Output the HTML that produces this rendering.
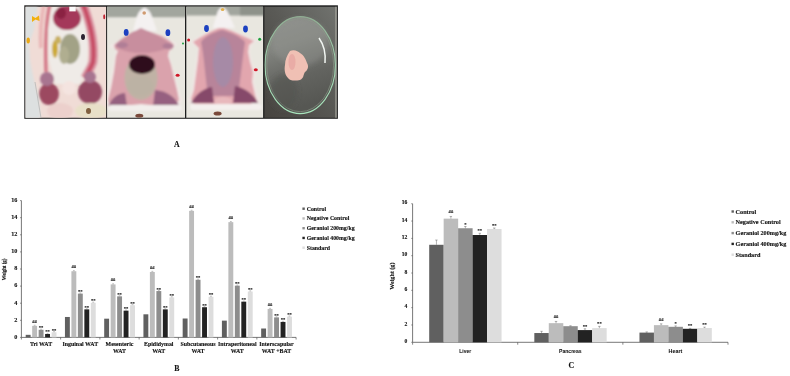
<!DOCTYPE html>
<html><head><meta charset="utf-8"><style>
html,body{margin:0;padding:0;background:#fff;width:790px;height:376px;overflow:hidden}
svg{display:block}
text{font-family:"Liberation Serif",serif;font-weight:bold;fill:#111;stroke:#111;stroke-width:0.12px}
.tk{font-size:5.6px}
.tkb{font-size:6.2px}
.an{font-size:4.6px;fill:#222;stroke:#222}
.cl{font-size:5.9px}
.yt{font-size:5.6px}
.yt2{font-size:6.1px}
.lg{font-size:5.85px}
.lg2{font-size:6.2px}
.cs{font-family:"Liberation Sans",sans-serif;font-size:5.8px;stroke-width:0.05px}
.pl{font-size:7.8px}
</style></head><body>
<svg width="790" height="376" viewBox="0 0 790 376" style="transform:translateZ(0)">
<defs>
<filter id="b1" x="-50%" y="-50%" width="200%" height="200%"><feGaussianBlur stdDeviation="1.2"/></filter>
<filter id="b2" x="-50%" y="-50%" width="200%" height="200%"><feGaussianBlur stdDeviation="2.5"/></filter>
<filter id="b3" x="-50%" y="-50%" width="200%" height="200%"><feGaussianBlur stdDeviation="0.6"/></filter>
</defs>
<rect x="24.3" y="5.3" width="313.6" height="113.5" fill="#1e1e1e"/>
<clipPath id="c1"><rect x="25.5" y="6.8" width="80.6" height="111.0"/></clipPath>
<clipPath id="c2"><rect x="107.1" y="6.8" width="77.9" height="111.0"/></clipPath>
<clipPath id="c3"><rect x="186.3" y="6.8" width="76.8" height="111.0"/></clipPath>
<clipPath id="c4"><rect x="264.4" y="6.8" width="72.5" height="111.0"/></clipPath>
<linearGradient id="dish" x1="0" y1="0" x2="0.25" y2="1"><stop offset="0" stop-color="#8e908c"/><stop offset="0.35" stop-color="#82847f"/><stop offset="0.7" stop-color="#636460"/><stop offset="1" stop-color="#565753"/></linearGradient>
<linearGradient id="rim" x1="0" y1="0" x2="0" y2="1"><stop offset="0" stop-color="#8fae92"/><stop offset="0.5" stop-color="#a0d4b0"/><stop offset="1" stop-color="#a8e4bc"/></linearGradient>
<linearGradient id="bg4" x1="1" y1="0" x2="0" y2="1"><stop offset="0" stop-color="#727470"/><stop offset="0.45" stop-color="#5a5a56"/><stop offset="1" stop-color="#45423e"/></linearGradient>
<g clip-path="url(#c1)">
<rect x="25" y="6" width="82" height="113" fill="#f0dcd6"/>
<g filter="url(#b1)">
<path d="M20 4 L38 4 L34 30 L29 44 L30 60 L34 80 L39 100 L41 122 L20 122Z" fill="#dde0e0"/>
<path d="M44 4 C41 20 40 35 41 48" stroke="#eab8b8" stroke-width="4" fill="none"/>
<path d="M50 4 C46 20 45 40 46 72" stroke="#d47c8a" stroke-width="3.5" fill="none"/>
<path d="M52 7 L84 7 L88 40 L87 70 L80 84 L55 84 L49 60 L48 30Z" fill="#efebe7"/>
<path d="M83 4 C91 25 95 45 93 62 C91 68 88 72 85 78" stroke="#dc98a6" stroke-width="9" fill="none"/>
<path d="M83 4 C91 25 95 45 93 62 C91 68 88 72 85 78" stroke="#c85068" stroke-width="4.5" fill="none"/>
<ellipse cx="67" cy="18" rx="14" ry="12" fill="#a4385a"/>
<ellipse cx="61" cy="13" rx="5" ry="6" fill="#8a2042"/>
<ellipse cx="70" cy="49" rx="10" ry="15" fill="#a2a286"/>
<ellipse cx="64" cy="55" rx="5" ry="9" fill="#b0ae90"/>
<ellipse cx="55" cy="49" rx="3" ry="9" fill="#ccaa3a"/>
<ellipse cx="58" cy="40" rx="3" ry="4" fill="#c8b060"/>
<ellipse cx="49" cy="94" rx="10" ry="11" fill="#9c4860"/>
<ellipse cx="47" cy="79" rx="7" ry="7" fill="#a87490"/>
<ellipse cx="90" cy="92" rx="12" ry="12" fill="#944a64"/>
<ellipse cx="90" cy="77" rx="6" ry="6" fill="#a87490"/>
<ellipse cx="69" cy="88" rx="7" ry="7" fill="#f4e4e0"/>
<ellipse cx="91" cy="111" rx="16" ry="8" fill="#e8e0c8"/>
<ellipse cx="60" cy="111" rx="13" ry="8" fill="#ecd0cc"/>
</g>
<g filter="url(#b3)">
<rect x="69.3" y="5" width="6.4" height="6.4" fill="#fafafa"/>
<ellipse cx="83" cy="37" rx="2" ry="3" fill="#2c2430"/>
<path d="M32 16 L35.5 18 L39 15.5 L39.5 21 L35.5 19.5 L32 22Z" fill="#f2b010"/>
<ellipse cx="28.2" cy="40.5" rx="1.7" ry="3" fill="#eaa818"/>
<ellipse cx="104.2" cy="16.8" rx="1" ry="2.5" fill="#c02030"/>
<ellipse cx="88.5" cy="111" rx="2.5" ry="3" fill="#806040"/>
<line x1="35" y1="82" x2="41" y2="118" stroke="#9aa0a0" stroke-width="0.5"/>
</g></g>
<g clip-path="url(#c2)">
<rect x="106" y="6" width="80" height="113" fill="#e9e7e0"/>
<g filter="url(#b1)">
<rect x="100" y="0" width="90" height="17.2" fill="#a2a69e"/>
<path d="M141.6 26 L152 32 L165 37 L177 44 L171 49 L169 56 L172 65 L175 78 L179 90 L182 100 L179 108 L160 109 L141 107 L122 109 L107 108 L105 100 L109 88 L112 72 L115 56 L116 50 L109 46 L120 40 L132 33Z" fill="#f2e8e6"/>
<path d="M141 27.5 L150 32 L162 36 L170 41 L174 45 L172 49 L169 51 L168 56 L171 65 L174 78 L177 90 L179 100 L175 105 L160 106 L141 104 L122 106 L110 105 L108 100 L111 88 L114 72 L116 56 L118 51 L115 49 L114 45 L120 40 L131 33Z" fill="#daa2ac"/>
<path d="M144.6 7.5 C140 9 137.5 14 136.5 18 L133 31 L157 31 L152.5 18 C151.5 14 149 9 144.6 7.5Z" fill="#f4f1f1"/>
<path d="M141 28 C148 31 158 35 165 40 L172 46 C165 50 155 52 148 53 L136 53 C128 52 120 50 115 46 L121 40 C127 35 135 31 141 28Z" fill="#c88e9e"/>
<ellipse cx="122" cy="45" rx="6" ry="3" fill="#b07e96"/>
<ellipse cx="168" cy="46" rx="5.5" ry="3" fill="#b07e96"/>
<ellipse cx="141" cy="78" rx="16.5" ry="22" fill="#c0b2a5"/>
<ellipse cx="142" cy="64.5" rx="13" ry="9.5" fill="#2e0f1a"/>
<ellipse cx="140" cy="86" rx="13" ry="10" fill="#bcb2a4"/>
<path d="M108 106 L127 106 L125 93 C118 93 112 98 108 106Z" fill="#966080"/>
<path d="M153 106 L179 106 C176 98 168 91 155 90Z" fill="#966080"/>
<rect x="108" y="105" width="74" height="6" rx="3" fill="#f2eeec"/>
</g>
<g filter="url(#b3)">
<ellipse cx="144.2" cy="13" rx="1.8" ry="1.8" fill="#d09a70"/>
<ellipse cx="126.2" cy="32.4" rx="2.4" ry="3.4" fill="#1a3fc0"/>
<ellipse cx="167.9" cy="32.7" rx="2.4" ry="3.4" fill="#1a3fc0"/>
<ellipse cx="177.6" cy="75.2" rx="2" ry="1.5" fill="#d01828"/>
<circle cx="183" cy="43.6" r="1" fill="#20a040"/>
<ellipse cx="139.3" cy="115.8" rx="4" ry="2" fill="#7a4a3a"/>
</g></g>
<g clip-path="url(#c3)">
<rect x="185" y="6" width="80" height="113" fill="#e9e7e0"/>
<g filter="url(#b1)">
<rect x="180" y="0" width="90" height="15.5" fill="#a2a69e"/>
<rect x="240" y="0" width="30" height="15.5" fill="#8e928a"/>
<path d="M221 26 L232 30 L244 35 L257 40 L252 45 L250 52 L252 62 L256 72 L254 82 L258 95 L261 102 L250 107 L222 109 L192 107 L188 100 L192 90 L194 75 L196 60 L198 48 L190 42 L200 36 L210 31Z" fill="#f0e6e4"/>
<path d="M221 27 L232 31 L243 36 L254 41 L249 45 L248 52 L250 62 L253 72 L252 82 L255 95 L257 101 L250 104 L222 106 L194 104 L191 99 L194 90 L196 75 L198 60 L199 48 L193 42 L201 37 L210 32Z" fill="#e2a6ae"/>
<path d="M222.2 7 C219 8 217 12 216.6 15.6 L212.6 28 L235 28 L229.4 15.6 C228 12 226 8 222.2 7Z" fill="#f4f1f1"/>
<path d="M222 30 C230 32 240 36 245 42 C243 55 241 75 238 96 L208 96 C205 75 204 55 201 42 C205 36 214 32 222 30Z" fill="#b8849a"/>
<ellipse cx="223" cy="62" rx="10" ry="25" fill="#a68aa6"/>
<path d="M191 103 L214 103 L212 87 C204 88 196 94 191 103Z" fill="#86486a"/>
<path d="M233 103 L258 103 C254 95 246 88 235 86Z" fill="#86486a"/>
<ellipse cx="223" cy="101" rx="9" ry="4" fill="#e8b8bc"/>
<rect x="190" y="104" width="72" height="6" rx="3" fill="#f4f0ee"/>
</g>
<g filter="url(#b3)">
<ellipse cx="222.6" cy="9.6" rx="1.8" ry="1.5" fill="#e0b050"/>
<ellipse cx="206.5" cy="28.5" rx="2.4" ry="3.4" fill="#1a3fc0"/>
<ellipse cx="245.5" cy="29" rx="2.4" ry="3.4" fill="#1a3fc0"/>
<circle cx="188.6" cy="40.1" r="1.5" fill="#d01828"/>
<ellipse cx="255.8" cy="69.8" rx="2" ry="1.5" fill="#d01828"/>
<circle cx="259.7" cy="39.2" r="1.5" fill="#20a040"/>
<ellipse cx="217.6" cy="113.4" rx="4" ry="2" fill="#7a4a3a"/>
</g></g>
<g clip-path="url(#c4)">
<rect x="263" y="6" width="76" height="113" fill="url(#bg4)"/>
<rect x="335" y="6" width="3" height="113" fill="#a8a8a0" opacity="0.6"/>
<ellipse cx="300.2" cy="65.1" rx="35.2" ry="48.5" fill="url(#dish)"/>
<g filter="url(#b3)">
<ellipse cx="300.2" cy="65.1" rx="33.4" ry="46.6" fill="none" stroke="#8a9a88" stroke-width="0.8" opacity="0.8"/>
<ellipse cx="300" cy="42" rx="28" ry="24" fill="#969894" opacity="0.4" filter="url(#b2)"/>
<ellipse cx="284" cy="92" rx="14" ry="18" fill="#50514d" opacity="0.45" filter="url(#b2)"/>
<path d="M319 38 C324 45 326 52 325 63" stroke="#f2f6f2" stroke-width="1.5" fill="none"/>
<path d="M290 51 C294 49 298 51 300 53 C304 55 306 60 307 63 C309 66 308 70 305 72 C303 75 304 78 300 80 C295 81 290 81 288 78 C285 75 284 70 285 65 C285 60 287 55 290 51Z" fill="#f0c0b4"/>
<ellipse cx="292" cy="62" rx="3.5" ry="8" fill="#e6a4a0" opacity="0.7"/>
</g>
<ellipse cx="300.2" cy="65.1" rx="35.2" ry="48.5" fill="none" stroke="url(#rim)" stroke-width="1.1"/>
</g>
<text x="176.9" y="146.6" text-anchor="middle" class="pl">A</text>
<line x1="21.4" y1="200.60" x2="21.4" y2="337.4" stroke="#555" stroke-width="0.8"/>
<line x1="21.4" y1="337.4" x2="296.1" y2="337.4" stroke="#555" stroke-width="0.8"/>
<line x1="20.099999999999998" y1="337.40" x2="21.4" y2="337.40" stroke="#555" stroke-width="0.7"/>
<text x="17.4" y="338.70" text-anchor="end" class="tkb">0</text>
<line x1="20.099999999999998" y1="320.30" x2="21.4" y2="320.30" stroke="#555" stroke-width="0.7"/>
<text x="17.4" y="321.60" text-anchor="end" class="tkb">2</text>
<line x1="20.099999999999998" y1="303.20" x2="21.4" y2="303.20" stroke="#555" stroke-width="0.7"/>
<text x="17.4" y="304.50" text-anchor="end" class="tkb">4</text>
<line x1="20.099999999999998" y1="286.10" x2="21.4" y2="286.10" stroke="#555" stroke-width="0.7"/>
<text x="17.4" y="287.40" text-anchor="end" class="tkb">6</text>
<line x1="20.099999999999998" y1="269.00" x2="21.4" y2="269.00" stroke="#555" stroke-width="0.7"/>
<text x="17.4" y="270.30" text-anchor="end" class="tkb">8</text>
<line x1="20.099999999999998" y1="251.90" x2="21.4" y2="251.90" stroke="#555" stroke-width="0.7"/>
<text x="17.4" y="253.20" text-anchor="end" class="tkb">10</text>
<line x1="20.099999999999998" y1="234.80" x2="21.4" y2="234.80" stroke="#555" stroke-width="0.7"/>
<text x="17.4" y="236.10" text-anchor="end" class="tkb">12</text>
<line x1="20.099999999999998" y1="217.70" x2="21.4" y2="217.70" stroke="#555" stroke-width="0.7"/>
<text x="17.4" y="219.00" text-anchor="end" class="tkb">14</text>
<line x1="20.099999999999998" y1="200.60" x2="21.4" y2="200.60" stroke="#555" stroke-width="0.7"/>
<text x="17.4" y="201.90" text-anchor="end" class="tkb">16</text>
<line x1="21.40" y1="337.4" x2="21.40" y2="339.5" stroke="#555" stroke-width="0.7"/>
<line x1="60.64" y1="337.4" x2="60.64" y2="339.5" stroke="#555" stroke-width="0.7"/>
<line x1="99.89" y1="337.4" x2="99.89" y2="339.5" stroke="#555" stroke-width="0.7"/>
<line x1="139.13" y1="337.4" x2="139.13" y2="339.5" stroke="#555" stroke-width="0.7"/>
<line x1="178.37" y1="337.4" x2="178.37" y2="339.5" stroke="#555" stroke-width="0.7"/>
<line x1="217.61" y1="337.4" x2="217.61" y2="339.5" stroke="#555" stroke-width="0.7"/>
<line x1="256.86" y1="337.4" x2="256.86" y2="339.5" stroke="#555" stroke-width="0.7"/>
<line x1="296.10" y1="337.4" x2="296.10" y2="339.5" stroke="#555" stroke-width="0.7"/>
<rect x="25.70" y="334.83" width="4.9" height="2.56" fill="#606060"/>
<rect x="32.17" y="325.86" width="4.9" height="11.54" fill="#bcbcbc"/>
<line x1="33.72" y1="325.26" x2="35.52" y2="325.26" stroke="#444" stroke-width="0.35"/>
<text x="34.62" y="322.76" text-anchor="middle" class="an">##</text>
<rect x="38.64" y="329.79" width="4.9" height="7.61" fill="#8d8d8d"/>
<line x1="40.19" y1="329.19" x2="41.99" y2="329.19" stroke="#444" stroke-width="0.35"/>
<text x="41.09" y="329.29" text-anchor="middle" class="an">**</text>
<rect x="45.11" y="333.98" width="4.9" height="3.42" fill="#222222"/>
<line x1="46.66" y1="333.38" x2="48.46" y2="333.38" stroke="#444" stroke-width="0.35"/>
<text x="47.56" y="333.48" text-anchor="middle" class="an">**</text>
<rect x="51.58" y="332.27" width="4.9" height="5.13" fill="#dddddd"/>
<line x1="53.13" y1="331.67" x2="54.93" y2="331.67" stroke="#444" stroke-width="0.35"/>
<text x="54.03" y="331.77" text-anchor="middle" class="an">**</text>
<rect x="64.94" y="316.97" width="4.9" height="20.43" fill="#606060"/>
<rect x="71.41" y="271.22" width="4.9" height="66.18" fill="#bcbcbc"/>
<line x1="72.96" y1="270.62" x2="74.76" y2="270.62" stroke="#444" stroke-width="0.35"/>
<text x="73.86" y="268.12" text-anchor="middle" class="an">##</text>
<rect x="77.88" y="293.62" width="4.9" height="43.78" fill="#8d8d8d"/>
<line x1="79.43" y1="293.02" x2="81.23" y2="293.02" stroke="#444" stroke-width="0.35"/>
<text x="80.33" y="293.12" text-anchor="middle" class="an">**</text>
<rect x="84.35" y="309.36" width="4.9" height="28.04" fill="#222222"/>
<line x1="85.90" y1="308.76" x2="87.70" y2="308.76" stroke="#444" stroke-width="0.35"/>
<text x="86.80" y="308.86" text-anchor="middle" class="an">**</text>
<rect x="90.82" y="302.77" width="4.9" height="34.63" fill="#dddddd"/>
<line x1="92.37" y1="302.17" x2="94.17" y2="302.17" stroke="#444" stroke-width="0.35"/>
<text x="93.27" y="302.27" text-anchor="middle" class="an">**</text>
<rect x="104.19" y="318.68" width="4.9" height="18.72" fill="#606060"/>
<rect x="110.66" y="284.39" width="4.9" height="53.01" fill="#bcbcbc"/>
<line x1="112.21" y1="283.79" x2="114.01" y2="283.79" stroke="#444" stroke-width="0.35"/>
<text x="113.11" y="281.29" text-anchor="middle" class="an">##</text>
<rect x="117.13" y="296.36" width="4.9" height="41.04" fill="#8d8d8d"/>
<line x1="118.68" y1="295.76" x2="120.48" y2="295.76" stroke="#444" stroke-width="0.35"/>
<text x="119.58" y="295.86" text-anchor="middle" class="an">**</text>
<rect x="123.60" y="310.64" width="4.9" height="26.76" fill="#222222"/>
<line x1="125.15" y1="310.04" x2="126.95" y2="310.04" stroke="#444" stroke-width="0.35"/>
<text x="126.05" y="310.14" text-anchor="middle" class="an">**</text>
<rect x="130.07" y="305.25" width="4.9" height="32.15" fill="#dddddd"/>
<line x1="131.62" y1="304.65" x2="133.42" y2="304.65" stroke="#444" stroke-width="0.35"/>
<text x="132.52" y="304.75" text-anchor="middle" class="an">**</text>
<rect x="143.43" y="314.31" width="4.9" height="23.09" fill="#606060"/>
<rect x="149.90" y="271.99" width="4.9" height="65.41" fill="#bcbcbc"/>
<line x1="151.45" y1="271.39" x2="153.25" y2="271.39" stroke="#444" stroke-width="0.35"/>
<text x="152.35" y="268.89" text-anchor="middle" class="an">##</text>
<rect x="156.37" y="291.06" width="4.9" height="46.34" fill="#8d8d8d"/>
<line x1="157.92" y1="290.46" x2="159.72" y2="290.46" stroke="#444" stroke-width="0.35"/>
<text x="158.82" y="290.56" text-anchor="middle" class="an">**</text>
<rect x="162.84" y="309.36" width="4.9" height="28.04" fill="#222222"/>
<line x1="164.39" y1="308.76" x2="166.19" y2="308.76" stroke="#444" stroke-width="0.35"/>
<text x="165.29" y="308.86" text-anchor="middle" class="an">**</text>
<rect x="169.31" y="297.39" width="4.9" height="40.01" fill="#dddddd"/>
<line x1="170.86" y1="296.79" x2="172.66" y2="296.79" stroke="#444" stroke-width="0.35"/>
<text x="171.76" y="296.89" text-anchor="middle" class="an">**</text>
<rect x="182.67" y="318.50" width="4.9" height="18.90" fill="#606060"/>
<rect x="189.14" y="210.86" width="4.9" height="126.54" fill="#bcbcbc"/>
<line x1="190.69" y1="210.26" x2="192.49" y2="210.26" stroke="#444" stroke-width="0.35"/>
<text x="191.59" y="207.76" text-anchor="middle" class="an">##</text>
<rect x="195.61" y="279.77" width="4.9" height="57.63" fill="#8d8d8d"/>
<line x1="197.16" y1="279.17" x2="198.96" y2="279.17" stroke="#444" stroke-width="0.35"/>
<text x="198.06" y="279.27" text-anchor="middle" class="an">**</text>
<rect x="202.08" y="307.22" width="4.9" height="30.18" fill="#222222"/>
<line x1="203.63" y1="306.62" x2="205.43" y2="306.62" stroke="#444" stroke-width="0.35"/>
<text x="204.53" y="306.72" text-anchor="middle" class="an">**</text>
<rect x="208.55" y="296.79" width="4.9" height="40.61" fill="#dddddd"/>
<line x1="210.10" y1="296.19" x2="211.90" y2="296.19" stroke="#444" stroke-width="0.35"/>
<text x="211.00" y="296.29" text-anchor="middle" class="an">**</text>
<rect x="221.91" y="320.64" width="4.9" height="16.76" fill="#606060"/>
<rect x="228.38" y="222.15" width="4.9" height="115.25" fill="#bcbcbc"/>
<line x1="229.93" y1="221.55" x2="231.73" y2="221.55" stroke="#444" stroke-width="0.35"/>
<text x="230.83" y="219.05" text-anchor="middle" class="an">##</text>
<rect x="234.85" y="285.67" width="4.9" height="51.73" fill="#8d8d8d"/>
<line x1="236.40" y1="285.07" x2="238.20" y2="285.07" stroke="#444" stroke-width="0.35"/>
<text x="237.30" y="285.17" text-anchor="middle" class="an">**</text>
<rect x="241.32" y="301.66" width="4.9" height="35.74" fill="#222222"/>
<line x1="242.87" y1="301.06" x2="244.67" y2="301.06" stroke="#444" stroke-width="0.35"/>
<text x="243.77" y="301.16" text-anchor="middle" class="an">**</text>
<rect x="247.79" y="291.49" width="4.9" height="45.91" fill="#dddddd"/>
<line x1="249.34" y1="290.89" x2="251.14" y2="290.89" stroke="#444" stroke-width="0.35"/>
<text x="250.24" y="290.99" text-anchor="middle" class="an">**</text>
<rect x="261.16" y="328.51" width="4.9" height="8.89" fill="#606060"/>
<rect x="267.63" y="308.93" width="4.9" height="28.47" fill="#bcbcbc"/>
<line x1="269.18" y1="308.33" x2="270.98" y2="308.33" stroke="#444" stroke-width="0.35"/>
<text x="270.08" y="305.83" text-anchor="middle" class="an">##</text>
<rect x="274.10" y="317.39" width="4.9" height="20.01" fill="#8d8d8d"/>
<line x1="275.65" y1="316.79" x2="277.45" y2="316.79" stroke="#444" stroke-width="0.35"/>
<text x="276.55" y="316.89" text-anchor="middle" class="an">**</text>
<rect x="280.57" y="321.92" width="4.9" height="15.48" fill="#222222"/>
<line x1="282.12" y1="321.32" x2="283.92" y2="321.32" stroke="#444" stroke-width="0.35"/>
<text x="283.02" y="321.42" text-anchor="middle" class="an">**</text>
<rect x="287.04" y="316.62" width="4.9" height="20.78" fill="#dddddd"/>
<line x1="288.59" y1="316.02" x2="290.39" y2="316.02" stroke="#444" stroke-width="0.35"/>
<text x="289.49" y="316.12" text-anchor="middle" class="an">**</text>
<text x="41.02" y="346.40" text-anchor="middle" class="cl">Tri WAT</text>
<text x="80.26" y="346.40" text-anchor="middle" class="cl">Inguinal WAT</text>
<text x="119.51" y="346.40" text-anchor="middle" class="cl">Mesenteric</text>
<text x="119.51" y="353.00" text-anchor="middle" class="cl">WAT</text>
<text x="158.75" y="346.40" text-anchor="middle" class="cl">Epididymal</text>
<text x="158.75" y="353.00" text-anchor="middle" class="cl">WAT</text>
<text x="197.99" y="346.40" text-anchor="middle" class="cl">Subcutaneous</text>
<text x="197.99" y="353.00" text-anchor="middle" class="cl">WAT</text>
<text x="237.24" y="346.40" text-anchor="middle" class="cl">Intraperitoneal</text>
<text x="237.24" y="353.00" text-anchor="middle" class="cl">WAT</text>
<text x="276.48" y="346.40" text-anchor="middle" class="cl">Interscapular</text>
<text x="276.48" y="353.00" text-anchor="middle" class="cl">WAT +BAT</text>
<text transform="translate(5.5,269.5) rotate(-90)" x="-10.75" textLength="21.5" lengthAdjust="spacingAndGlyphs" class="yt">Weight (g)</text>
<rect x="302.4" y="207.50" width="2.4" height="2.4" fill="#606060"/>
<text x="306.7" y="210.60" class="lg">Control</text>
<rect x="302.4" y="217.25" width="2.4" height="2.4" fill="#bcbcbc"/>
<text x="306.7" y="220.35" class="lg">Negative Control</text>
<rect x="302.4" y="227.00" width="2.4" height="2.4" fill="#8d8d8d"/>
<text x="306.7" y="230.10" class="lg">Geraniol 200mg/kg</text>
<rect x="302.4" y="236.75" width="2.4" height="2.4" fill="#222222"/>
<text x="306.7" y="239.85" class="lg">Geraniol 400mg/kg</text>
<rect x="302.4" y="246.50" width="2.4" height="2.4" fill="#dddddd"/>
<text x="306.7" y="249.60" class="lg">Standard</text>
<text x="176.8" y="370.9" text-anchor="middle" class="pl">B</text>
<line x1="412.6" y1="203.74" x2="412.6" y2="342.3" stroke="#555" stroke-width="0.8"/>
<line x1="412.6" y1="342.3" x2="728.0" y2="342.3" stroke="#555" stroke-width="0.8"/>
<line x1="411.3" y1="342.30" x2="412.6" y2="342.30" stroke="#555" stroke-width="0.7"/>
<text x="407.40000000000003" y="343.00" text-anchor="end" class="tk">0</text>
<line x1="411.3" y1="324.98" x2="412.6" y2="324.98" stroke="#555" stroke-width="0.7"/>
<text x="407.40000000000003" y="325.68" text-anchor="end" class="tk">2</text>
<line x1="411.3" y1="307.66" x2="412.6" y2="307.66" stroke="#555" stroke-width="0.7"/>
<text x="407.40000000000003" y="308.36" text-anchor="end" class="tk">4</text>
<line x1="411.3" y1="290.34" x2="412.6" y2="290.34" stroke="#555" stroke-width="0.7"/>
<text x="407.40000000000003" y="291.04" text-anchor="end" class="tk">6</text>
<line x1="411.3" y1="273.02" x2="412.6" y2="273.02" stroke="#555" stroke-width="0.7"/>
<text x="407.40000000000003" y="273.72" text-anchor="end" class="tk">8</text>
<line x1="411.3" y1="255.70" x2="412.6" y2="255.70" stroke="#555" stroke-width="0.7"/>
<text x="407.40000000000003" y="256.40" text-anchor="end" class="tk">10</text>
<line x1="411.3" y1="238.38" x2="412.6" y2="238.38" stroke="#555" stroke-width="0.7"/>
<text x="407.40000000000003" y="239.08" text-anchor="end" class="tk">12</text>
<line x1="411.3" y1="221.06" x2="412.6" y2="221.06" stroke="#555" stroke-width="0.7"/>
<text x="407.40000000000003" y="221.76" text-anchor="end" class="tk">14</text>
<line x1="411.3" y1="203.74" x2="412.6" y2="203.74" stroke="#555" stroke-width="0.7"/>
<text x="407.40000000000003" y="204.44" text-anchor="end" class="tk">16</text>
<line x1="412.60" y1="342.3" x2="412.60" y2="344.7" stroke="#555" stroke-width="0.7"/>
<line x1="517.73" y1="342.3" x2="517.73" y2="344.7" stroke="#555" stroke-width="0.7"/>
<line x1="622.87" y1="342.3" x2="622.87" y2="344.7" stroke="#555" stroke-width="0.7"/>
<line x1="728.00" y1="342.3" x2="728.00" y2="344.7" stroke="#555" stroke-width="0.7"/>
<rect x="429.20" y="244.79" width="14.5" height="97.51" fill="#606060"/>
<path d="M436.43 244.79V240.03M435.23 240.03H437.63" stroke="#444" stroke-width="0.4" fill="none"/>
<rect x="443.66" y="218.64" width="14.5" height="123.66" fill="#bcbcbc"/>
<path d="M450.89 218.64V216.47M449.69 216.47H452.09" stroke="#444" stroke-width="0.4" fill="none"/>
<text x="450.89" y="213.17" text-anchor="middle" class="an">##</text>
<rect x="458.12" y="228.25" width="14.5" height="114.05" fill="#8d8d8d"/>
<path d="M465.35 228.25V226.52M464.15 226.52H466.55" stroke="#444" stroke-width="0.4" fill="none"/>
<text x="465.35" y="225.62" text-anchor="middle" class="an">*</text>
<rect x="472.58" y="235.00" width="14.5" height="107.30" fill="#222222"/>
<path d="M479.81 235.00V233.27M478.61 233.27H481.01" stroke="#444" stroke-width="0.4" fill="none"/>
<text x="479.81" y="232.37" text-anchor="middle" class="an">**</text>
<rect x="487.04" y="229.03" width="14.5" height="113.27" fill="#dddddd"/>
<path d="M494.27 229.03V227.99M493.07 227.99H495.47" stroke="#444" stroke-width="0.4" fill="none"/>
<text x="494.27" y="227.09" text-anchor="middle" class="an">**</text>
<rect x="534.33" y="333.03" width="14.5" height="9.27" fill="#606060"/>
<path d="M541.56 333.03V331.30M540.36 331.30H542.76" stroke="#444" stroke-width="0.4" fill="none"/>
<rect x="548.79" y="323.16" width="14.5" height="19.14" fill="#bcbcbc"/>
<path d="M556.02 323.16V321.43M554.82 321.43H557.22" stroke="#444" stroke-width="0.4" fill="none"/>
<text x="556.02" y="318.13" text-anchor="middle" class="an">##</text>
<rect x="563.25" y="326.19" width="14.5" height="16.11" fill="#8d8d8d"/>
<path d="M570.48 326.19V325.76M569.28 325.76H571.68" stroke="#444" stroke-width="0.4" fill="none"/>
<rect x="577.71" y="330.09" width="14.5" height="12.21" fill="#222222"/>
<path d="M584.94 330.09V328.79M583.74 328.79H586.14" stroke="#444" stroke-width="0.4" fill="none"/>
<text x="584.94" y="327.89" text-anchor="middle" class="an">**</text>
<rect x="592.17" y="328.10" width="14.5" height="14.20" fill="#dddddd"/>
<path d="M599.40 328.10V326.37M598.20 326.37H600.60" stroke="#444" stroke-width="0.4" fill="none"/>
<text x="599.40" y="325.47" text-anchor="middle" class="an">**</text>
<rect x="639.47" y="332.60" width="14.5" height="9.70" fill="#606060"/>
<path d="M646.70 332.60V331.91M645.50 331.91H647.90" stroke="#444" stroke-width="0.4" fill="none"/>
<rect x="653.93" y="325.15" width="14.5" height="17.15" fill="#bcbcbc"/>
<path d="M661.16 325.15V323.85M659.96 323.85H662.36" stroke="#444" stroke-width="0.4" fill="none"/>
<text x="661.16" y="320.55" text-anchor="middle" class="an">##</text>
<rect x="668.39" y="326.80" width="14.5" height="15.50" fill="#8d8d8d"/>
<path d="M675.62 326.80V325.93M674.42 325.93H676.82" stroke="#444" stroke-width="0.4" fill="none"/>
<text x="675.62" y="325.03" text-anchor="middle" class="an">*</text>
<rect x="682.85" y="328.79" width="14.5" height="13.51" fill="#222222"/>
<path d="M690.08 328.79V328.36M688.88 328.36H691.28" stroke="#444" stroke-width="0.4" fill="none"/>
<text x="690.08" y="327.46" text-anchor="middle" class="an">**</text>
<rect x="697.31" y="328.01" width="14.5" height="14.29" fill="#dddddd"/>
<path d="M704.54 328.01V327.15M703.34 327.15H705.74" stroke="#444" stroke-width="0.4" fill="none"/>
<text x="704.54" y="326.25" text-anchor="middle" class="an">**</text>
<text x="459.27" y="352.8" textLength="11.8" lengthAdjust="spacingAndGlyphs" class="cs">Liver</text>
<text x="559.10" y="352.8" textLength="22.4" lengthAdjust="spacingAndGlyphs" class="cs">Pancreas</text>
<text x="668.58" y="352.8" textLength="13.7" lengthAdjust="spacingAndGlyphs" class="cs">Heart</text>
<text transform="translate(394.3,276.2) rotate(-90)" text-anchor="middle" class="yt2">Weight (g)</text>
<rect x="731.5" y="210.30" width="2.4" height="2.4" fill="#606060"/>
<text x="735.6" y="213.50" class="lg2">Control</text>
<rect x="731.5" y="221.10" width="2.4" height="2.4" fill="#bcbcbc"/>
<text x="735.6" y="224.30" class="lg2">Negative Control</text>
<rect x="731.5" y="231.90" width="2.4" height="2.4" fill="#8d8d8d"/>
<text x="735.6" y="235.10" class="lg2">Geraniol 200mg/kg</text>
<rect x="731.5" y="242.70" width="2.4" height="2.4" fill="#222222"/>
<text x="735.6" y="245.90" class="lg2">Geraniol 400mg/kg</text>
<rect x="731.5" y="253.50" width="2.4" height="2.4" fill="#dddddd"/>
<text x="735.6" y="256.70" class="lg2">Standard</text>
<text x="571.4" y="368.4" text-anchor="middle" class="pl">C</text>
</svg>
</body></html>
